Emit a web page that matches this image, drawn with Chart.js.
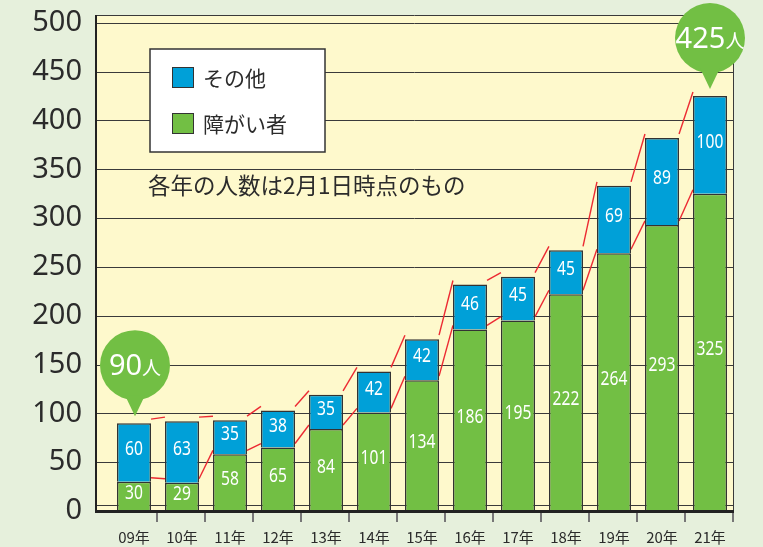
<!DOCTYPE html>
<html lang="ja">
<head>
<meta charset="utf-8">
<script src="https://cdn.jsdelivr.net/npm/chart.js@4.4.1/dist/chart.umd.min.js"></script>
<style>
  html, body { margin: 0; padding: 0; background: #e6f0dc; }
  #wrap { width: 763px; height: 547px; }
</style>
</head>
<body>
<div id="wrap"><canvas id="grafik" width="763" height="547"></canvas></div>
<script>
// ================= DATA =================
const tahun = ["09年", "10年", "11年", "12年", "13年", "14年", "15年", "16年", "17年", "18年", "19年", "20年", "21年"];
const shogai = [30, 29, 58, 65, 84, 101, 134, 186, 195, 222, 264, 293, 325];
const sonota = [60, 63, 35, 38, 35, 42, 42, 46, 45, 45, 69, 89, 100];
const yTicks = [0, 50, 100, 150, 200, 250, 300, 350, 400, 450, 500];
const catatan = "各年の人数は2月1日時点のもの";

const HIJAU = "#72bf44";
const BIRU = "#00a0d8";
const GARIS = "#3a3a3a";
const TEKS = "#2b2b2b";

// ================= HELPER =================
function garis(ctx, x1, y1, x2, y2) {
  ctx.beginPath();
  ctx.moveTo(x1, y1);
  ctx.lineTo(x2, y2);
  ctx.stroke();
}

function gelembung(ctx, cx, tipY, angka) {
  const cy = tipY - 51;
  ctx.fillStyle = HIJAU;
  ctx.beginPath();
  ctx.arc(cx, cy, 35, 0, Math.PI * 2);
  ctx.fill();
  ctx.beginPath();
  ctx.moveTo(cx - 10, cy + 30);
  ctx.lineTo(cx + 10, cy + 30);
  ctx.lineTo(cx, tipY);
  ctx.closePath();
  ctx.fill();

  ctx.fillStyle = "#ffffff";
  ctx.textBaseline = "alphabetic";
  ctx.textAlign = "left";
  ctx.font = "29px 'Noto Sans', sans-serif";
  const w1 = ctx.measureText(String(angka)).width;
  ctx.font = "19px 'Noto Sans CJK JP', sans-serif";
  const w2 = ctx.measureText("人").width;
  const x0 = cx - (w1 + w2) / 2;
  ctx.font = "29px 'Noto Sans', sans-serif";
  ctx.fillText(String(angka), x0, cy + 10);
  ctx.font = "19px 'Noto Sans CJK JP', sans-serif";
  ctx.fillText("人", x0 + w1, cy + 10);
}

// ================= PLUGIN LATAR =================
const latar = {
  id: "latar",
  beforeDatasetsDraw(chart) {
    const { ctx, chartArea: a, scales: { y } } = chart;
    const kiri = a.left - 15;
    ctx.save();
    ctx.fillStyle = "#fef9cc";
    ctx.fillRect(kiri, a.top, a.right - kiri, a.bottom - a.top);

    ctx.strokeStyle = GARIS;
    ctx.lineWidth = 1;
    yTicks.forEach((v) => {
      if (v === 0) return;
      const py = Math.round(y.getPixelForValue(v)) + 0.5;
      garis(ctx, kiri, py, a.right, py);
    });
    garis(ctx, kiri, a.top + 0.5, a.right, a.top + 0.5);
    garis(ctx, a.right - 0.5, a.top, a.right - 0.5, a.bottom);
    garis(ctx, kiri, a.bottom - 5.5, a.right, a.bottom - 5.5);

    // garis seri merah di belakang batang
    ctx.strokeStyle = "#ec2a32";
    ctx.lineWidth = 1.4;
    [0, 1].forEach((di) => {
      const bars = chart.getDatasetMeta(di).data;
      for (let i = 0; i < bars.length - 1; i++) {
        const b = bars[i];
        const n = bars[i + 1];
        garis(ctx, b.x + b.width / 2, b.y - 4, n.x - n.width / 2, n.y - 4);
      }
    });
    ctx.restore();
  },
  afterDatasetsDraw(chart) {
    const { ctx, chartArea: a, data } = chart;
    const kiri = a.left - 15;
    ctx.save();

    // label nilai (huruf dipersempit)
    ctx.fillStyle = "#ffffff";
    ctx.textAlign = "center";
    ctx.textBaseline = "middle";
    ctx.font = "20px 'Noto Sans', sans-serif";
    data.datasets.forEach((ds, di) => {
      chart.getDatasetMeta(di).data.forEach((b, i) => {
        ctx.save();
        ctx.translate(b.x, (b.y + b.base) / 2 - 3);
        ctx.scale(0.78, 1);
        ctx.fillText(String(ds.data[i]), 0, 0);
        ctx.restore();
      });
    });

    // sumbu
    ctx.strokeStyle = "#222";
    ctx.lineWidth = 2;
    garis(ctx, kiri + 1, a.top, kiri + 1, a.bottom + 1);
    ctx.lineWidth = 3;
    garis(ctx, kiri, a.bottom + 0.5, a.right, a.bottom + 0.5);
    ctx.strokeStyle = "#777";
    ctx.lineWidth = 2;
    const step = (a.right - a.left) / tahun.length;
    for (let i = 1; i <= tahun.length; i++) {
      const px = Math.round(a.left + step * i) - 1;
      garis(ctx, px, a.bottom + 2, px, a.bottom + 11);
    }

    // legenda
    ctx.fillStyle = "#ffffff";
    ctx.fillRect(150, 49, 175, 103);
    ctx.strokeStyle = "#333";
    ctx.lineWidth = 1.5;
    ctx.strokeRect(150, 49, 175, 103);
    const urut = [1, 0];
    urut.forEach((di, k) => {
      const ds = data.datasets[di];
      const ty = 67 + k * 46;
      ctx.fillStyle = ds.backgroundColor;
      ctx.fillRect(172, ty, 22, 21);
      ctx.lineWidth = 1;
      ctx.strokeStyle = "#333";
      ctx.strokeRect(172.5, ty + 0.5, 21, 20);
      ctx.fillStyle = TEKS;
      ctx.textAlign = "left";
      ctx.textBaseline = "middle";
      ctx.font = "21px 'Noto Sans CJK JP', sans-serif";
      ctx.fillText(ds.label, 203, ty + 11);
    });

    // catatan
    ctx.font = "22.5px 'Noto Sans CJK JP', sans-serif";
    ctx.fillStyle = TEKS;
    ctx.fillText(catatan, 148, 185);

    // gelembung jumlah
    const atas = chart.getDatasetMeta(1).data;
    const akhir = atas.length - 1;
    gelembung(ctx, atas[0].x + 1, atas[0].y - 7, shogai[0] + sonota[0]);
    gelembung(ctx, atas[akhir].x, atas[akhir].y - 7, shogai[akhir] + sonota[akhir]);

    ctx.restore();
  },
};

// ================= GRAFIK =================
const ctx = document.getElementById("grafik");

new Chart(ctx, {
  type: "bar",
  data: {
    labels: tahun,
    datasets: [
      {
        label: "障がい者",
        data: shogai,
        backgroundColor: HIJAU,
        borderColor: "#333",
        borderWidth: 1.5,
      },
      {
        label: "その他",
        data: sonota,
        backgroundColor: BIRU,
        borderColor: "#333",
        borderWidth: 1.5,
      },
    ],
  },
  options: {
    responsive: false,
    animation: false,
    devicePixelRatio: 1,
    layout: { padding: { top: 15, right: 29, left: 0, bottom: 0 } },
    datasets: {
      bar: { categoryPercentage: 1, barPercentage: 0.71 },
    },
    plugins: {
      legend: { display: false },
      tooltip: { enabled: false },
    },
    scales: {
      x: {
        stacked: true,
        grid: { display: false, drawTicks: false },
        border: { display: false },
        ticks: {
          padding: 17,
          color: TEKS,
          font: { family: "'Noto Sans CJK JP', sans-serif", size: 15 },
        },
        afterFit: (scale) => {
          scale.height = 36;
          scale.paddingLeft = 0;
          scale.paddingRight = 0;
        },
      },
      y: {
        stacked: true,
        min: 0,
        max: 508,
        grid: { display: false, drawTicks: false },
        border: { display: false },
        ticks: {
          stepSize: 50,
          includeBounds: false,
          padding: 28,
          color: TEKS,
          font: { family: "'Noto Sans', sans-serif", size: 29 },
        },
        afterFit: (scale) => {
          scale.width = 110;
          scale.paddingTop = 0;
          scale.paddingBottom = 0;
        },
      },
    },
  },
  plugins: [latar],
});
</script>
</body>
</html>
